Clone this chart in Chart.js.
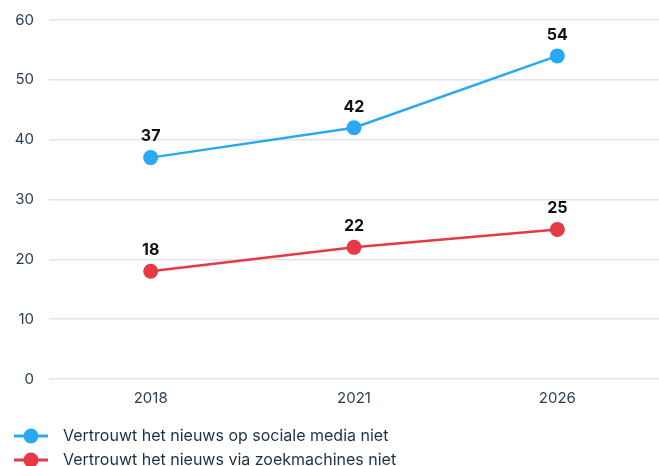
<!DOCTYPE html>
<html>
<head>
<meta charset="utf-8">
<script src="https://cdn.jsdelivr.net/npm/chart.js@4.4.0/dist/chart.umd.min.js"></script>
<style>
  html, body { margin: 0; padding: 0; background: #fff; overflow: hidden; }
  #wrap { width: 659px; height: 466px; overflow: hidden; position: relative; }
  #box { width: 659px; height: 478px; position: absolute; left: 0; top: 0; }
</style>
</head>
<body>
<div id="wrap"><div id="box"><canvas id="c"></canvas></div></div>
<script>
const categories = ['2018', '2021', '2026'];
const socialMedia = [37, 42, 54];
const searchEngines = [18, 22, 25];
const seriesNames = ['Vertrouwt het nieuws op sociale media niet', 'Vertrouwt het nieuws via zoekmachines niet'];
const yTicks = [0, 10, 20, 30, 40, 50, 60];

const BLUE = '#29a9f1';
const RED = '#e63946';
const FONT = 'Inter, "DejaVu Sans", sans-serif';

function legendIcon(color) {
  const c = document.createElement('canvas');
  c.width = 47; c.height = 18;
  const x = c.getContext('2d');
  x.strokeStyle = color; x.lineWidth = 3;
  x.beginPath(); x.moveTo(6, 9); x.lineTo(40, 9); x.stroke();
  x.fillStyle = color;
  x.beginPath(); x.arc(23, 9, 7.5, 0, Math.PI * 2); x.fill();
  return c;
}
const icons = [legendIcon(BLUE), legendIcon(RED)];

const valueLabels = {
  id: 'valueLabels',
  afterDatasetsDraw(chart) {
    const ctx = chart.ctx;
    ctx.save();
    ctx.font = 'bold 16px ' + FONT;
    ctx.fillStyle = '#111';
    ctx.textAlign = 'center';
    ctx.textBaseline = 'bottom';
    chart.data.datasets.forEach((ds, i) => {
      chart.getDatasetMeta(i).data.forEach((pt, j) => {
        ctx.fillText(String(ds.data[j]), pt.x, pt.y - 13);
      });
    });
    ctx.restore();
  }
};

new Chart(document.getElementById('c'), {
  type: 'line',
  data: {
    labels: categories,
    datasets: [
      { label: seriesNames[0], data: socialMedia, borderColor: BLUE, backgroundColor: BLUE,
        borderWidth: 2.5, pointRadius: 7.5, pointHoverRadius: 7.5, pointBorderWidth: 0, tension: 0, clip: false },
      { label: seriesNames[1], data: searchEngines, borderColor: RED, backgroundColor: RED,
        borderWidth: 2.5, pointRadius: 7.5, pointHoverRadius: 7.5, pointBorderWidth: 0, tension: 0, clip: false }
    ]
  },
  options: {
    responsive: true,
    maintainAspectRatio: false,
    animation: false,
    layout: { autoPadding: false, padding: { top: 20, left: 0, right: 0, bottom: 0 } },
    scales: {
      x: {
        offset: true,
        afterFit(scale) { scale.paddingLeft = 0; scale.paddingRight = 0; scale.height += 3; },
        grid: { display: false, drawTicks: false },
        border: { display: false },
        ticks: { color: '#2c3e50', font: { family: FONT, size: 15 }, padding: 10 }
      },
      y: {
        min: 0, max: 60,
        afterBuildTicks(scale) { scale.ticks = yTicks.map(v => ({ value: v })); },
        afterFit(scale) { scale.width = 49; scale.paddingTop = 0; scale.paddingBottom = 0; },
        grid: { color: '#e3e4ea', lineWidth: 1.5, drawTicks: false },
        border: { display: false },
        ticks: { color: '#2c3e50', font: { family: FONT, size: 15 }, padding: 15 }
      }
    },
    plugins: {
      tooltip: { enabled: false },
      legend: {
        position: 'bottom',
        align: 'start',
        labels: {
          usePointStyle: true,
          pointStyleWidth: 47,
          color: '#1e3040',
          font: { family: FONT, size: 16 },
          padding: 8,
          generateLabels(chart) {
            return chart.data.datasets.map((ds, i) => ({
              text: ds.label,
              fillStyle: ds.borderColor,
              strokeStyle: ds.borderColor,
              pointStyle: icons[i],
              fontColor: '#1e3040',
              hidden: false,
              datasetIndex: i
            }));
          }
        }
      }
    }
  },
  plugins: [valueLabels]
});
</script>
</body>
</html>
